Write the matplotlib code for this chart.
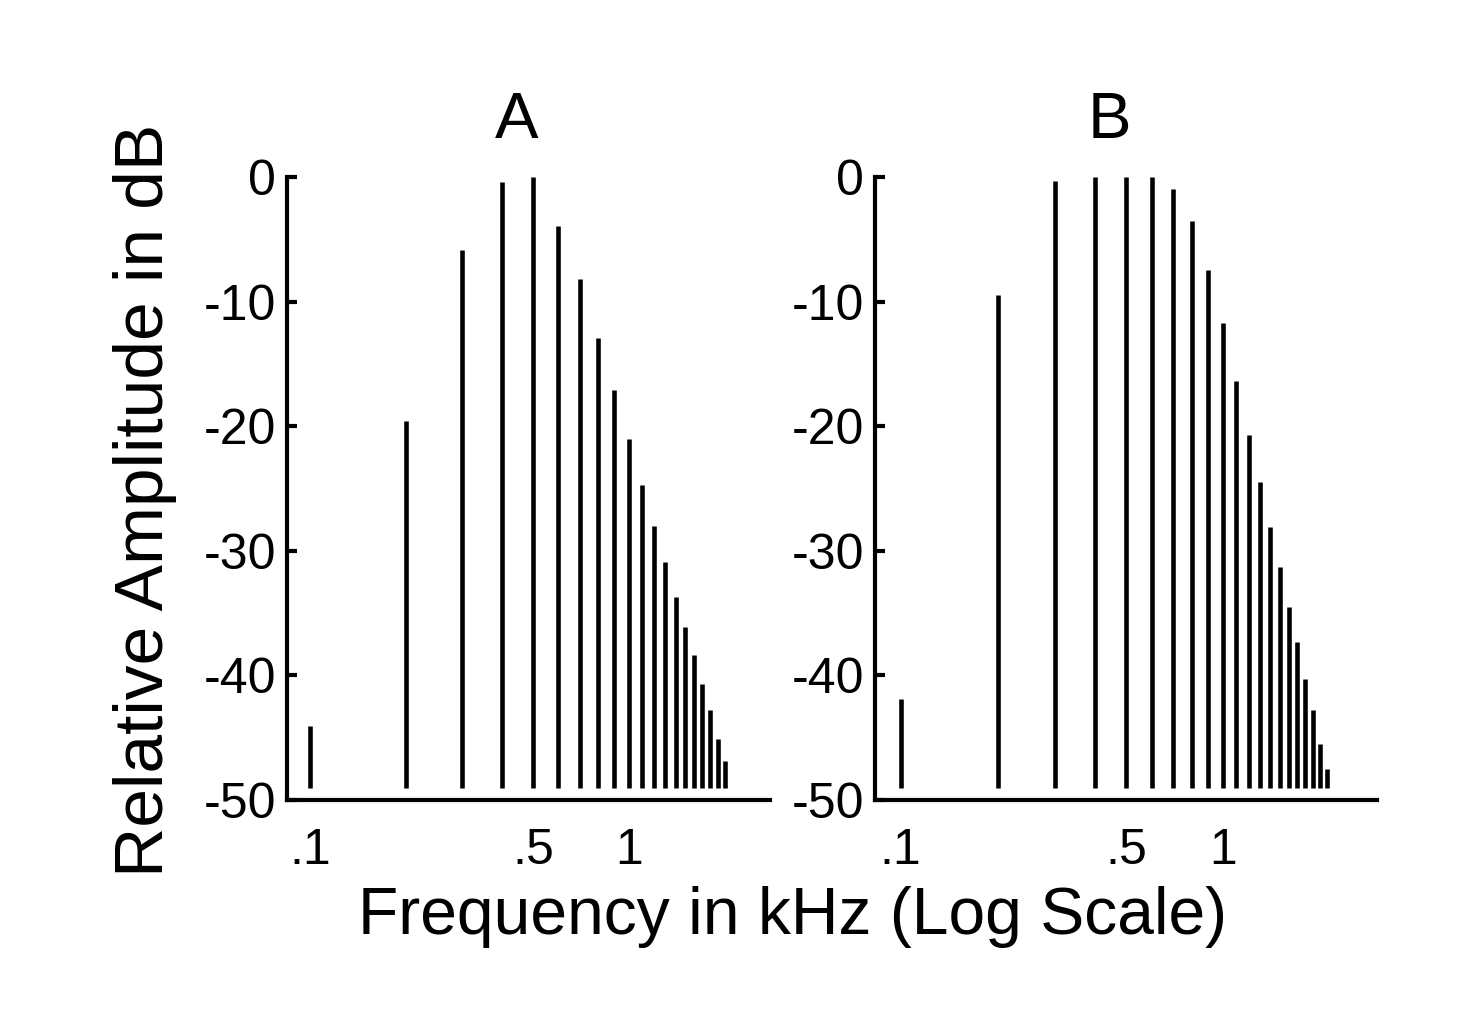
import matplotlib
matplotlib.use("Agg")
import matplotlib.pyplot as plt
from matplotlib.ticker import NullLocator

plt.rcParams['font.family'] = ['Liberation Sans', 'DejaVu Sans']

# harmonic frequencies in kHz
freq_a = [0.1, 0.2, 0.3, 0.4, 0.5, 0.6, 0.7, 0.8, 0.9, 1.0,
          1.1, 1.2, 1.3, 1.4, 1.5, 1.6, 1.7, 1.8, 1.9, 2.0]
amp_a = [-44.1, -19.6, -5.9, -0.4, 0.0, -3.9, -8.2, -12.9, -17.1, -21.0,
         -24.7, -28.0, -30.9, -33.7, -36.1, -38.4, -40.7, -42.8, -45.1, -46.9]

freq_b = [0.1, 0.2, 0.3, 0.4, 0.5, 0.6, 0.7, 0.8, 0.9, 1.0,
          1.1, 1.2, 1.3, 1.4, 1.5, 1.6, 1.7, 1.8, 1.9, 2.0, 2.1]
amp_b = [-41.9, -9.5, -0.3, 0.0, 0.0, 0.0, -1.0, -3.5, -7.5, -11.7,
         -16.4, -20.7, -24.5, -28.1, -31.3, -34.5, -37.3, -40.3, -42.8, -45.5, -47.5]

ytick_vals = [0, -10, -20, -30, -40, -50]
ytick_labels = ['0', '-10', '-20', '-30', '-40', '-50']
xtick_vals = [0.1, 0.5, 1.0]
xtick_labels = ['.1', '.5', '1']
base = -49

fig = plt.figure(figsize=(14.6, 10.1), dpi=100)
ax_a = fig.add_axes([0.1966, 0.2079, 0.3308, 0.6169])
ax_b = fig.add_axes([0.5993, 0.2079, 0.3438, 0.6169])


def panel(ax, freq, amp, title, xlim, tx):
    ax.vlines(freq, base, amp, color='black', linewidth=3.3)
    ax.set_xscale('log')
    ax.set_xlim(*xlim)
    ax.set_ylim(-50, 0)
    ax.spines['top'].set_visible(False)
    ax.spines['right'].set_visible(False)
    ax.spines['left'].set_linewidth(3.0)
    ax.spines['bottom'].set_linewidth(3.0)
    ax.set_yticks(ytick_vals)
    ax.set_yticklabels(ytick_labels, fontsize=36)
    ax.set_xticks(xtick_vals)
    ax.set_xticklabels(xtick_labels, fontsize=36)
    ax.xaxis.set_minor_locator(NullLocator())
    ax.tick_params(axis='y', direction='in', length=7, width=3.0, pad=8)
    ax.tick_params(axis='x', length=0, pad=20)
    ax.text(tx, 1.062, title, transform=ax.transAxes, fontsize=47,
            ha='center', va='baseline')


panel(ax_a, freq_a, amp_a, 'A', (0.0847, 2.77), 0.476)
panel(ax_b, freq_b, amp_b, 'B', (0.0832, 3.0), 0.468)

fig.text(0.099, 0.505, 'Relative Amplitude in dB', rotation=90,
         fontsize=50, ha='center', va='center')
fig.text(0.543, 0.092, 'Frequency in kHz (Log Scale)',
         fontsize=47.5, ha='center', va='center')

fig.savefig('out.png', dpi=100, facecolor='white')
